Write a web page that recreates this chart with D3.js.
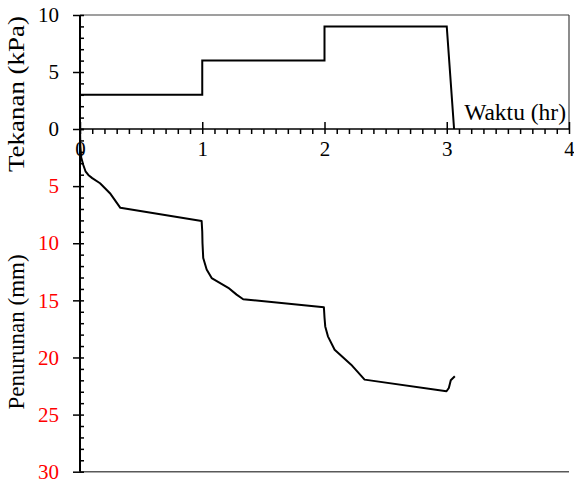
<!DOCTYPE html>
<html>
<head>
<meta charset="utf-8">
<script src="https://cdn.jsdelivr.net/npm/d3@7"></script>
<style>
  html, body { margin: 0; padding: 0; background: #fff; }
  svg { display: block; }
  text { font-family: "Liberation Serif", "Times New Roman", serif; }
</style>
</head>
<body>
<svg id="chart" width="574" height="479"></svg>
<script>
// Applied pressure (kPa) over time (hr)
const pressureTime = [0, 1, 1, 2, 2, 3, 3.06];
const pressureValue = [3, 3, 6, 6, 9, 9, 0];

// Settlement (mm) over time (hr)
const settleTime = [0, 0.003, 0.01, 0.027, 0.045, 0.068, 0.1, 0.164, 0.245, 0.33,
  0.995, 1.0, 1.002, 1.008, 1.036, 1.077, 1.213, 1.281, 1.335,
  1.995, 2.0, 2.006, 2.028, 2.083, 2.218, 2.328,
  2.998, 3.017, 3.033, 3.066];
const settleValue = [0, 1.5, 2.5, 3.15, 3.7, 4.02, 4.3, 4.75, 5.62, 6.9,
  8.05, 9.0, 10.0, 11.3, 12.3, 13.05, 13.9, 14.5, 14.9,
  15.6, 16.5, 17.28, 18.15, 19.32, 20.63, 21.94,
  22.96, 22.67, 22.0, 21.65];

// Tick values
const timeTicks = [0, 1, 2, 3, 4];
const pressureTicks = [0, 5, 10];
const settleTicks = [5, 10, 15, 20, 25, 30];

const svg = d3.select("#chart");
const plotLeft = 80, plotRight = 569, plotTop = 15, plotMid = 129, plotBottom = 471.7;

const x = d3.scaleLinear().domain([0, 4]).range([plotLeft, plotRight]);
const yP = d3.scaleLinear().domain([0, 10]).range([plotMid, plotTop]);
const yS = d3.scaleLinear().domain([0, 30]).range([plotMid, plotBottom]);

const fontSize = 21;

// Frame lines
svg.append("line").attr("x1", plotLeft).attr("x2", plotRight).attr("y1", plotTop).attr("y2", plotTop)
  .attr("stroke", "#404040").attr("stroke-width", 1.2);
svg.append("line").attr("x1", plotRight).attr("x2", plotRight).attr("y1", plotTop).attr("y2", plotMid)
  .attr("stroke", "#404040").attr("stroke-width", 1.2);
svg.append("line").attr("x1", plotLeft).attr("x2", plotRight).attr("y1", yS(30)).attr("y2", yS(30))
  .attr("stroke", "#595959").attr("stroke-width", 1.6);

function clean(g) {
  g.select(".domain").remove();
  g.attr("font-family", null);
  g.selectAll(".tick line").attr("stroke", "#000").attr("stroke-width", 1.5);
  g.selectAll("text").attr("font-size", fontSize);
}

// Upper y axis (pressure)
svg.append("g").attr("transform", `translate(${plotLeft},0)`)
  .call(d3.axisLeft(yP).tickValues(pressureTicks).tickSize(7).tickPadding(14))
  .call(clean)
  .selectAll("text").attr("fill", "#000");
svg.append("g").attr("transform", `translate(${plotLeft},0)`)
  .call(d3.axisRight(yP).tickValues(d3.range(0, 11)).tickSize(4).tickFormat(""))
  .call(clean);

// Lower y axis (settlement)
svg.append("g").attr("transform", `translate(${plotLeft},0)`)
  .call(d3.axisLeft(yS).tickValues(settleTicks).tickSize(7).tickPadding(14))
  .call(clean)
  .selectAll("text").attr("fill", "#ff0000");
svg.append("g").attr("transform", `translate(${plotLeft},0)`)
  .call(d3.axisRight(yS).tickValues(d3.range(0, 31)).tickSize(4).tickFormat(""))
  .call(clean);

// Left axis line
svg.append("line").attr("x1", plotLeft).attr("x2", plotLeft).attr("y1", plotTop).attr("y2", plotBottom)
  .attr("stroke", "#000").attr("stroke-width", 2);

// Time axis
svg.append("g").attr("transform", `translate(0,${plotMid})`)
  .call(d3.axisTop(x).tickValues(timeTicks).tickSize(7).tickFormat(""))
  .call(clean);
svg.append("g").attr("transform", `translate(0,${plotMid})`)
  .call(d3.axisBottom(x).tickValues(d3.range(0, 41).map(d => d / 10)).tickSize(5).tickFormat(""))
  .call(clean);
svg.append("g").attr("transform", `translate(0,${plotMid})`)
  .call(d3.axisBottom(x).tickValues(timeTicks).tickSize(0).tickPadding(12).tickFormat(d3.format("d")))
  .call(clean)
  .selectAll("text").attr("fill", "#000");
svg.append("line").attr("x1", plotLeft).attr("x2", plotRight).attr("y1", plotMid).attr("y2", plotMid)
  .attr("stroke", "#000").attr("stroke-width", 1.3);

// Data lines
const pressureLine = d3.line().x(d => x(d[0])).y(d => yP(d[1]));
svg.append("path")
  .datum(d3.zip(pressureTime, pressureValue))
  .attr("d", pressureLine)
  .attr("fill", "none").attr("stroke", "#000").attr("stroke-width", 2);

const settleLine = d3.line().x(d => x(d[0])).y(d => yS(d[1]));
svg.append("path")
  .datum(d3.zip(settleTime, settleValue))
  .attr("d", settleLine)
  .attr("fill", "none").attr("stroke", "#000").attr("stroke-width", 2)
  .attr("stroke-linejoin", "round");

// Axis titles
svg.append("text")
  .attr("transform", `translate(24,94) rotate(-90)`)
  .attr("text-anchor", "middle").attr("font-size", 23).attr("fill", "#000")
  .attr("textLength", 156).attr("lengthAdjust", "spacingAndGlyphs")
  .text("Tekanan (kPa)");
svg.append("text")
  .attr("transform", `translate(24,332) rotate(-90)`)
  .attr("text-anchor", "middle").attr("font-size", 23).attr("fill", "#000")
  .text("Penurunan (mm)");
svg.append("text")
  .attr("x", 566).attr("y", 120)
  .attr("text-anchor", "end").attr("font-size", 23.5).attr("fill", "#000")
  .text("Waktu (hr)");
</script>
</body>
</html>
